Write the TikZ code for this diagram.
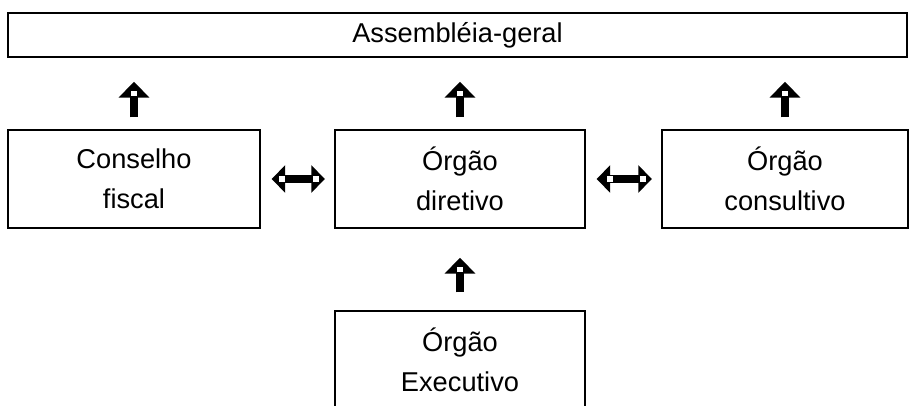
\documentclass[tikz,border=0pt]{standalone}
\usepackage{fontspec}
\setmainfont{Liberation Sans}
\usepackage{tikz}
\usetikzlibrary{positioning, arrows.meta}

\begin{document}
\begin{tikzpicture}[on grid,
		box/.style={draw, line width=0.8pt, inner sep=0pt, align=center, minimum height=1.96cm, minimum width=5cm, font=\fontsize{15.5}{22.5}\selectfont},
		blk/.style={line width=0.17cm, -{Triangle[length=0.32cm, width=0.6cm]}},
		dblk/.style={line width=0.17cm, {Triangle[length=0.27cm, width=0.54cm]}-{Triangle[length=0.27cm, width=0.54cm]}, shorten <=0.22cm, shorten >=0.19cm},
		sq/.style={fill=white, inner sep=0pt, minimum size=0.11cm}]
		\useasboundingbox (0,0) rectangle (18.2,-8.12);
		\node[box] (d) at (9.2,-3.58) {Órgão\\diretivo};
		\node[box, minimum width=5.04cm] (f) [left=6.52cm of d] {Conselho\\fiscal};
		\node[box, minimum width=4.92cm] (c) [right=6.5cm of d] {Órgão\\consultivo};
		\node[box] (e) [below=3.62cm of d] {Órgão\\Executivo};
		\node[box, minimum width=17.98cm, minimum height=0.88cm] (a) [above=2.88cm of d, xshift=-0.05cm] {Assembléia-geral};
		
		\draw[blk, shorten <=0.24cm, shorten >=0.48cm] (f.north) -- (f.north |- a.south) node[sq, midway] {};
		\draw[blk, shorten <=0.24cm, shorten >=0.48cm] (d.north) -- (d.north |- a.south) node[sq, midway] {};
		\draw[blk, shorten <=0.24cm, shorten >=0.48cm] (c.north) -- (c.north |- a.south) node[sq, midway] {};
		\draw[blk, shorten <=0.36cm, shorten >=0.58cm] (e.north) -- (d.south) node[sq, midway] {};
		\draw[dblk] (f.east) -- (d.west) node[sq, pos=0.29] {} node[sq, pos=0.75] {};
		\draw[dblk] (d.east) -- (c.west) node[sq, pos=0.32] {} node[sq, pos=0.76] {};
	\end{tikzpicture}
\end{document}
